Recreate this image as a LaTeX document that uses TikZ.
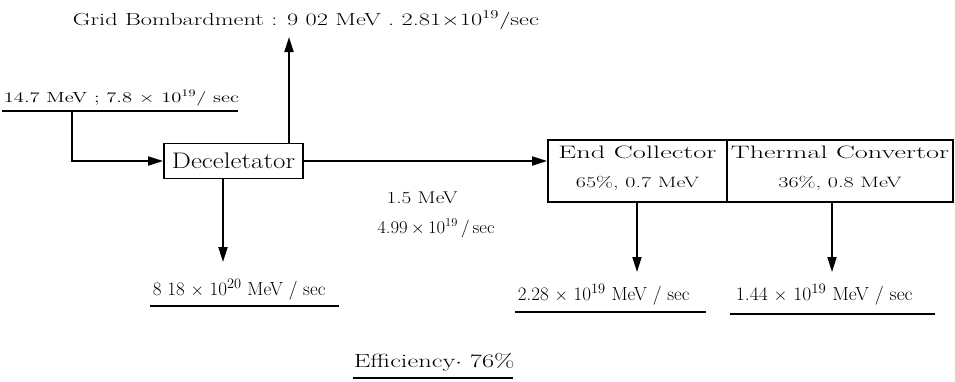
\documentclass[tikz,border=0pt]{standalone}
\usetikzlibrary{arrows.meta}
\newcommand{\wt}[3]{\scalebox{#1}[1]{\fontsize{#2}{#2}\selectfont #3}}
\begin{document}
\begin{tikzpicture}[x=1pt,y=-1pt,
  line width=1.8pt,
  flow/.style={-{Triangle[length=15pt,width=9pt]}},
  box/.style={draw, line width=1.8pt, inner sep=0pt},
  lbl/.style={inner sep=0pt, anchor=base west},
  clbl/.style={inner sep=0pt, anchor=base},
  uline/.style={line width=1.5pt}]
\useasboundingbox (0,0) rectangle (955,381);

% boxes
\node[box, minimum width=139pt, minimum height=35pt] (dec) at (233.5,161) {\wt{1.2}{22.5}{Deceletator}};
\node[box, minimum width=179pt, minimum height=62pt] (ec) at (637.5,171) {};
\node[box, minimum width=226pt, minimum height=62pt] (tc) at (840,171) {};
\node[clbl] (ect) at (637.5,158) {\wt{1.58}{18}{End Collector}};
\node[clbl] (ecs) at (637.5,187) {\wt{1.47}{15}{65\%, 0.7 MeV}};
\node[clbl] (tct) at (840,158) {\wt{1.57}{18}{Thermal Convertor}};
\node[clbl] (tcs) at (840,187) {\wt{1.47}{15}{36\%, 0.8 MeV}};

% labels
\node[lbl] (grid) at (72,25) {\wt{1.39}{17.5}{Grid Bombardment : 9 02 MeV . 2.81$\times$10$^{19}$/sec}};
\node[lbl] (inp) at (3,102) {\wt{1.41}{14.6}{14.7 MeV ; 7.8 $\times$ 10$^{19}$/ sec}};
\node[lbl] (dout) at (152,295) {\wt{1.0}{19}{8 18 $\times$ 10$^{20}$ MeV / sec}};
\node[clbl] (mev) at (422,203) {\wt{1.25}{17}{1.5 MeV}};
\node[clbl] (rate) at (436,233) {\wt{1.04}{18}{4.99\,${\times}$\,10$^{19}$\,/\,sec}};
\node[lbl] (ecout) at (517,300) {\wt{1.0}{19}{2.28 $\times$ 10$^{19}$ MeV / sec}};
\node[lbl] (tcout) at (735,300) {\wt{1.03}{19}{1.44 $\times$ 10$^{19}$ MeV / sec}};
\node[lbl] (eff) at (353,367) {\wt{1.39}{19}{Efficiency$\cdot$ 76\%}};

% underlines
\draw[uline] (2,111) -- (238,111);
\draw[uline] (150,306) -- (339,306);
\draw[uline] (515,312) -- (706,312);
\draw[uline] (730,314) -- (935,314);
\draw[uline] (353,378) -- (513,378);

% connectors
\coordinate (inpt) at (72,111);
\coordinate (gtip) at (289,37);
\coordinate (dtip) at (223,262);
\coordinate (ectip) at (637,272);
\coordinate (tctip) at (832,272);
\draw[flow] (inpt) |- (dec.west);
\draw[flow] (dec.north -| gtip) -- (gtip);
\draw[flow] (dec.south -| dtip) -- (dtip);
\draw[flow] (dec.east) -- (dec.east -| ec.west);
\draw[flow] (ec.south -| ectip) -- (ectip);
\draw[flow] (tc.south -| tctip) -- (tctip);
\end{tikzpicture}
\end{document}
